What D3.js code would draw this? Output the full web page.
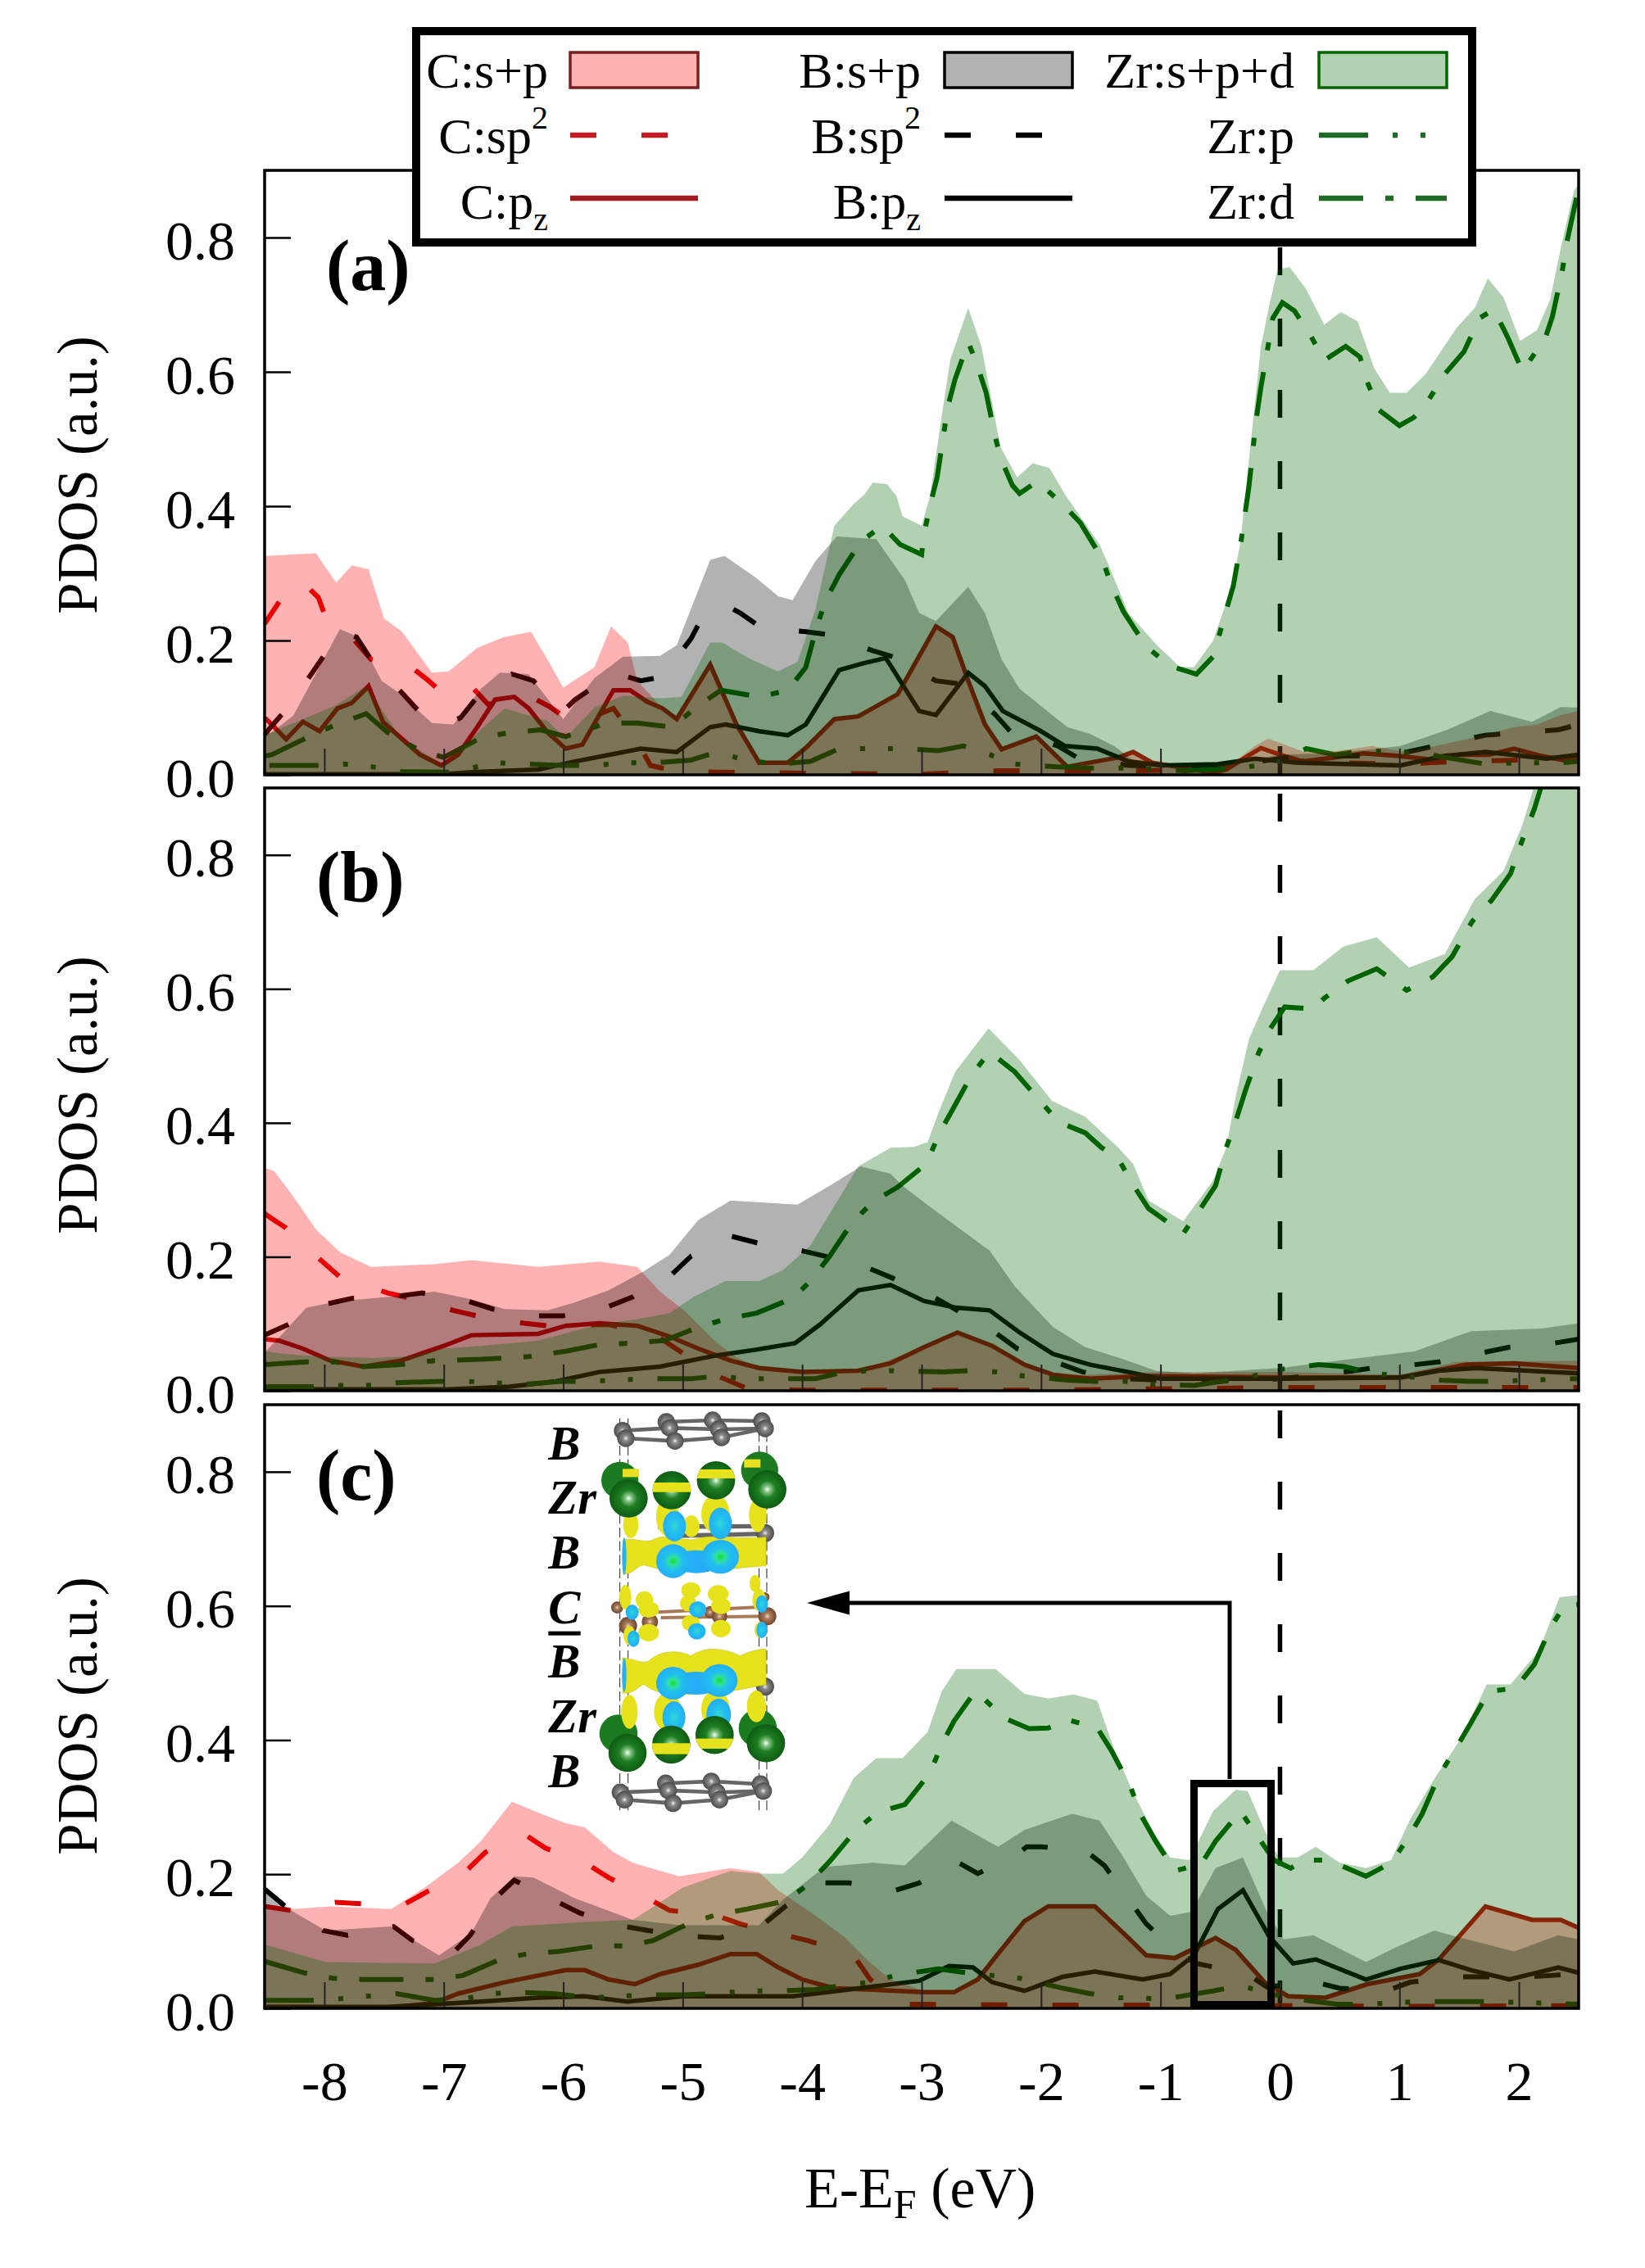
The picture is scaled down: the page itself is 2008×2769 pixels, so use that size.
<!DOCTYPE html>
<html>
<head>
<meta charset="utf-8">
<script src="https://d3js.org/d3.v7.min.js"></script>
<style>
html, body { margin: 0; padding: 0; background: #fff; }
text { font-family: "Liberation Serif", serif; fill: #000; }
</style>
</head>
<body>
<div id="chart"></div>
<script>
// [energy, pdos] pairs, panel (a)
var aCTotal = [[-8.5,.326],[-8.07,.33],[-7.9,.286],[-7.77,.312],[-7.63,.306],[-7.5,.233],[-7.35,.213],[-7.1,.152],[-6.96,.154],[-6.72,.189],[-6.5,.205],[-6.27,.213],[-6.12,.168],[-6,.13],[-5.74,.16],[-5.6,.221],[-5.46,.197],[-5.38,.14],[-5.2,.105],[-5.05,.083],[-4.77,.164],[-4.55,.075],[-4.36,.018],[-4.12,.018],[-3.97,.04],[-3.73,.083],[-3.53,.087],[-3.2,.12],[-2.88,.221],[-2.74,.205],[-2.61,.14],[-2.47,.075],[-2.33,.038],[-2.04,.057],[-1.78,.012],[-1.35,.026],[-1.23,.034],[-1.07,.018],[-.56,.002],[-.45,.01],[-.21,.043],[-.1,.054],[.19,.035],[.46,.035],[.77,.043],[1.01,.035],[1.17,.038],[1.56,.053],[1.96,.071],[2.15,.075],[2.35,.089],[2.5,.095]];
var aBTotal = [[-8.5,.06],[-8.44,.063],[-8.26,.088],[-7.87,.217],[-7.71,.205],[-7.52,.14],[-7.36,.12],[-7.1,.077],[-6.92,.075],[-6.69,.128],[-6.53,.152],[-6.29,.15],[-6,.083],[-5.74,.144],[-5.5,.176],[-5.19,.177],[-5.05,.193],[-4.77,.32],[-4.65,.326],[-4.39,.294],[-4.2,.266],[-4.08,.26],[-3.89,.318],[-3.71,.355],[-3.38,.351],[-3.14,.29],[-3.02,.241],[-2.88,.229],[-2.61,.28],[-2.47,.241],[-2.33,.172],[-2.18,.128],[-1.78,.071],[-1.59,.061],[-1.39,.043],[-1.2,.018],[-.99,.014],[-.4,.018],[0,.03],[.5,.033],[1.01,.043],[1.4,.067],[1.76,.095],[2.11,.079],[2.35,.101],[2.5,.1]];
var aZrTotal = [[-8.5,.059],[-8.18,.083],[-7.91,.103],[-7.65,.132],[-7.36,.055],[-7,.014],[-6.69,.067],[-6.49,.099],[-6.13,.08],[-5.98,.055],[-5.74,.1],[-5.5,.118],[-5.19,.114],[-5.01,.116],[-4.77,.197],[-4.67,.197],[-4.43,.172],[-4.2,.154],[-4.04,.168],[-3.89,.245],[-3.73,.371],[-3.57,.403],[-3.48,.417],[-3.41,.435],[-3.29,.433],[-3.21,.415],[-3.16,.385],[-3.0,.371],[-2.93,.415],[-2.83,.536],[-2.76,.618],[-2.61,.695],[-2.5,.638],[-2.34,.488],[-2.2,.443],[-2.07,.464],[-1.93,.457],[-1.79,.415],[-1.51,.343],[-1.43,.31],[-1.27,.241],[-1.03,.193],[-.84,.161],[-.72,.16],[-.56,.2],[-.4,.282],[-.33,.347],[-.28,.435],[-.22,.536],[-.16,.638],[-.08,.707],[-.02,.752],[.08,.756],[.22,.723],[.37,.67],[.51,.689],[.65,.675],[.79,.605],[.92,.569],[1.06,.569],[1.22,.597],[1.48,.666],[1.63,.695],[1.74,.739],[1.87,.711],[2.01,.646],[2.15,.662],[2.26,.707],[2.36,.792],[2.46,.869],[2.5,.88]];
var aCSp2 = [[-8.5,.225],[-8.44,.241],[-8.31,.276],[-8.2,.29],[-8.05,.264],[-7.97,.225],[-7.79,.209],[-7.61,.172],[-7.3,.164],[-7.14,.142],[-7,.12],[-6.78,.134],[-6.63,.105],[-6.45,.11],[-6.29,.118],[-6.11,.101],[-5.9,.075],[-5.74,.087],[-5.58,.099],[-5.4,.055],[-5.27,.014],[-5.05,.005],[-4.7,.004],[-3.7,.002],[-3,.001],[-2.37,.006],[-1.82,.006],[-1.2,.006],[-.7,.008],[-.4,.015],[0,.022],[.5,.018],[1,.016],[1.5,.02],[2,.022],[2.5,.025]];
var aCPz = [[-8.5,.085],[-8.44,.075],[-8.32,.053],[-8.18,.079],[-8.04,.065],[-7.89,.099],[-7.77,.107],[-7.63,.132],[-7.51,.079],[-7.36,.055],[-7.2,.03],[-7.02,.014],[-6.88,.03],[-6.72,.071],[-6.57,.112],[-6.41,.116],[-6.29,.099],[-6.13,.063],[-5.98,.039],[-5.84,.045],[-5.58,.126],[-5.44,.126],[-5.3,.109],[-5.17,.099],[-5.05,.083],[-4.77,.164],[-4.55,.075],[-4.36,.018],[-4.12,.018],[-3.97,.04],[-3.73,.083],[-3.53,.087],[-3.2,.12],[-2.88,.221],[-2.74,.205],[-2.61,.14],[-2.47,.075],[-2.33,.038],[-2.04,.057],[-1.78,.012],[-1.35,.026],[-1.23,.034],[-1.07,.018],[-.56,.003],[-.45,.008],[-.25,.03],[-.16,.04],[0,.03],[.19,.02],[.46,.026],[.7,.032],[1,.028],[1.3,.022],[1.5,.03],[1.75,.03],[1.96,.039],[2.19,.028],[2.43,.02],[2.5,.025]];
var aBSp2 = [[-8.5,.06],[-8.44,.073],[-8.3,.101],[-8.07,.16],[-7.87,.213],[-7.73,.205],[-7.61,.172],[-7.36,.124],[-7.2,.093],[-7,.075],[-6.86,.085],[-6.72,.116],[-6.43,.15],[-6.25,.14],[-6,.095],[-5.9,.112],[-5.72,.134],[-5.54,.15],[-5.35,.14],[-5.17,.146],[-4.93,.203],[-4.83,.237],[-4.64,.253],[-4.52,.241],[-4.34,.219],[-3.97,.213],[-3.79,.209],[-3.41,.185],[-3.24,.176],[-2.88,.14],[-2.7,.136],[-2.39,.091],[-2.26,.065],[-1.86,.043],[-1.7,.026],[-1.27,.014],[-.72,.012],[-.17,.02],[.15,.028],[.62,.028],[1.01,.032],[1.72,.059],[2.33,.067],[2.5,.075]];
var aBPz = [[-8.5,.001],[-7,.001],[-6.77,.004],[-6.21,.008],[-5.9,.02],[-5.35,.039],[-5.05,.034],[-4.77,.071],[-4.64,.075],[-4.36,.065],[-4.12,.059],[-3.97,.075],[-3.69,.156],[-3.49,.166],[-3.3,.174],[-3.02,.095],[-2.88,.089],[-2.61,.152],[-2.47,.132],[-2.32,.095],[-2.02,.067],[-1.8,.043],[-1.53,.039],[-1.27,.02],[-.99,.014],[-.52,.016],[-.21,.024],[.15,.018],[1.01,.014],[1.37,.028],[1.72,.034],[2.23,.024],[2.5,.03]];
var aZrP = [[-8.46,.014],[-8.07,.014],[-7.83,.016],[-7.6,.012],[-7.36,.005],[-6.92,.004],[-6.57,.018],[-6.29,.016],[-6,.014],[-5.74,.014],[-5.5,.018],[-5.23,.018],[-4.93,.022],[-4.71,.034],[-4.48,.022],[-4.2,.016],[-3.93,.02],[-3.69,.039],[-3.45,.039],[-3.14,.039],[-2.86,.036],[-2.65,.043],[-2.43,.03],[-2.22,.016],[-1.86,.012],[-1.59,.01],[-1.19,.01],[-.8,.006],[-.33,.01],[0,.02],[.22,.039],[.46,.03],[.7,.036],[1.01,.034],[1.25,.03],[1.72,.016],[1.96,.018],[2.35,.018],[2.5,.02]];
var aZrD = [[-8.5,.028],[-8.44,.03],[-8.15,.055],[-7.9,.075],[-7.65,.091],[-7.47,.063],[-7.2,.036],[-7,.026],[-6.69,.055],[-6.45,.063],[-6.19,.067],[-5.98,.057],[-5.64,.077],[-5.38,.077],[-5.09,.071],[-4.87,.103],[-4.68,.126],[-4.36,.116],[-4.12,.126],[-3.97,.16],[-3.89,.213],[-3.81,.257],[-3.69,.298],[-3.51,.347],[-3.33,.371],[-3.18,.343],[-3.0,.328],[-2.98,.359],[-2.92,.408],[-2.87,.443],[-2.82,.502],[-2.78,.549],[-2.72,.589],[-2.61,.644],[-2.54,.613],[-2.46,.569],[-2.39,.508],[-2.34,.472],[-2.24,.431],[-2.18,.419],[-2.03,.437],[-1.82,.403],[-1.67,.375],[-1.49,.322],[-1.41,.282],[-1.31,.243],[-1.12,.191],[-.92,.162],[-.7,.15],[-.56,.176],[-.45,.245],[-.39,.282],[-.33,.343],[-.26,.429],[-.2,.528],[-.16,.577],[-.1,.638],[-.06,.68],[.02,.703],[.12,.691],[.25,.656],[.37,.617],[.55,.638],[.67,.622],[.73,.585],[.83,.543],[1.0,.52],[1.12,.532],[1.24,.557],[1.38,.597],[1.54,.63],[1.67,.68],[1.79,.693],[1.91,.65],[2.03,.601],[2.22,.65],[2.28,.682],[2.36,.747],[2.4,.792],[2.46,.841],[2.5,.873]];

// panel (b)
var bCTotal = [[-8.5,.333],[-8.42,.328],[-8.26,.29],[-8.07,.241],[-7.87,.207],[-7.61,.185],[-7.08,.189],[-6.77,.195],[-6.21,.185],[-5.7,.193],[-5.38,.185],[-5.19,.148],[-4.99,.12],[-4.71,.071],[-4.56,.051],[-4.36,.034],[-4,.028],[-3.53,.028],[-3.14,.055],[-2.7,.087],[-2.41,.067],[-2.14,.039],[-1.9,.022],[-1,.028],[0,.028],[1.01,.024],[1.48,.043],[2.5,.045]];
var bBTotal = [[-8.5,.057],[-8.34,.087],[-8.15,.124],[-7.87,.134],[-7.36,.142],[-7.08,.148],[-6.8,.138],[-6.49,.122],[-6.13,.12],[-5.9,.132],[-5.62,.15],[-5.33,.178],[-5.11,.203],[-4.87,.255],[-4.6,.284],[-4.04,.278],[-3.77,.306],[-3.51,.335],[-3.26,.324],[-3.16,.306],[-2.94,.276],[-2.43,.209],[-2.22,.156],[-1.9,.095],[-1.63,.065],[-1.31,.047],[-1.04,.03],[-.72,.026],[0,.034],[.58,.047],[1.13,.059],[1.6,.089],[2.19,.093],[2.5,.101]];
var bZrTotal = [[-8.5,.059],[-8.34,.055],[-8.03,.051],[-7.59,.049],[-7.32,.051],[-7,.063],[-6.69,.067],[-6.21,.075],[-5.7,.099],[-5.38,.107],[-5.11,.116],[-4.91,.14],[-4.64,.164],[-4.36,.164],[-4.16,.18],[-3.93,.217],[-3.71,.282],[-3.53,.335],[-3.26,.363],[-3.07,.364],[-2.95,.371],[-2.85,.419],[-2.72,.476],[-2.44,.541],[-2.19,.496],[-1.91,.433],[-1.63,.409],[-1.36,.364],[-1.23,.339],[-1.1,.284],[-.81,.253],[-.56,.314],[-.45,.363],[-.37,.44],[-.26,.525],[-.14,.574],[0,.628],[.28,.628],[.53,.663],[.81,.677],[1.08,.632],[1.38,.652],[1.63,.734],[1.87,.776],[2.03,.845],[2.11,.892],[2.14,.91],[2.5,1.02]];
var bCSp2 = [[-8.5,.265],[-8.48,.262],[-8.32,.243],[-8.03,.195],[-7.87,.17],[-7.47,.146],[-7.32,.14],[-6.92,.12],[-6.73,.112],[-6.33,.101],[-6.13,.097],[-5.62,.099],[-5.2,.08],[-4.99,.055],[-4.68,.02],[-4.48,.005],[-4.06,.001],[-2,.001],[-.4,.004],[0,.005],[1,.005],[2,.005],[2.5,.005]];
var bCPz = [[-8.5,.077],[-8.38,.075],[-8.18,.063],[-7.95,.045],[-7.67,.036],[-7.36,.045],[-7,.067],[-6.77,.083],[-6.21,.085],[-5.98,.097],[-5.7,.101],[-5.38,.097],[-5.11,.081],[-4.87,.063],[-4.6,.045],[-4.36,.034],[-4,.028],[-3.53,.03],[-3.26,.041],[-2.98,.065],[-2.7,.087],[-2.41,.067],[-2.14,.039],[-1.9,.024],[-1.59,.018],[-1.12,.022],[0,.02],[1.01,.02],[1.56,.039],[1.96,.041],[2.5,.034]];
var bBSp2 = [[-8.5,.083],[-8.3,.099],[-7.97,.13],[-7.77,.138],[-7.36,.142],[-7.18,.146],[-6.8,.134],[-6.59,.122],[-6.21,.112],[-6,.112],[-5.62,.126],[-5.42,.14],[-5.09,.174],[-4.93,.201],[-4.6,.231],[-4.38,.221],[-4,.209],[-3.81,.201],[-3.43,.182],[-3.24,.168],[-2.9,.14],[-2.6,.11],[-2.37,.085],[-2.2,.063],[-1.82,.039],[-1.65,.028],[-1.27,.018],[-.64,.013],[0,.018],[.54,.028],[.78,.034],[1.13,.039],[1.33,.043],[1.7,.057],[1.92,.065],[2.29,.071],[2.5,.077]];
var bBPz = [[-8.5,.002],[-6.96,.002],[-6.45,.006],[-6.06,.014],[-5.7,.028],[-5.19,.036],[-4.71,.053],[-4.4,.061],[-4.06,.071],[-3.85,.099],[-3.53,.15],[-3.26,.158],[-2.98,.134],[-2.71,.124],[-2.43,.12],[-2.18,.087],[-1.9,.055],[-1.59,.039],[-1.27,.028],[-1,.018],[0,.018],[1.01,.02],[1.33,.03],[1.64,.034],[2.5,.026]];
var bZrP = [[-8.5,.006],[-8.11,.006],[-7.89,.008],[-7.65,.008],[-7.4,.012],[-7.04,.014],[-6.8,.014],[-6.6,.012],[-6.29,.01],[-6.02,.014],[-5.8,.014],[-5.54,.016],[-5.31,.018],[-4.93,.018],[-4.71,.022],[-4.48,.018],[-4.24,.018],[-3.89,.018],[-3.65,.028],[-3.43,.03],[-3.2,.03],[-2.82,.028],[-2.61,.03],[-2.37,.028],[-2.14,.022],[-1.78,.016],[-1.55,.014],[-1.3,.014],[-1.08,.01],[-.72,.008],[-.49,.014],[-.27,.02],[0,.032],[.32,.039],[.54,.036],[.78,.026],[1.01,.022],[1.35,.016],[1.58,.014],[1.82,.014],[2.07,.016],[2.43,.018],[2.5,.018]];
var bZrD = [[-8.5,.039],[-8.15,.043],[-7.91,.043],[-7.67,.036],[-7.36,.039],[-7.08,.045],[-6.69,.047],[-6.29,.051],[-5.98,.059],[-5.7,.069],[-5.44,.071],[-5.15,.075],[-4.87,.095],[-4.64,.107],[-4.38,.116],[-4.08,.138],[-3.93,.164],[-3.77,.201],[-3.59,.249],[-3.41,.282],[-3.2,.304],[-2.96,.339],[-2.85,.385],[-2.74,.42],[-2.58,.472],[-2.43,.506],[-2.22,.476],[-2,.431],[-1.85,.401],[-1.63,.385],[-1.5,.364],[-1.35,.345],[-1.21,.302],[-1.1,.272],[-.81,.235],[-.68,.268],[-.54,.306],[-.45,.363],[-.37,.403],[-.29,.448],[-.18,.504],[-.08,.541],[.04,.573],[.28,.57],[.37,.586],[.57,.612],[.81,.63],[1.06,.598],[1.28,.618],[1.44,.648],[1.61,.701],[1.77,.732],[1.93,.772],[2.03,.823],[2.13,.869],[2.2,.91],[2.5,1.04]];

// panel (c)
var cCTotal = [[-8.5,.152],[-8.26,.148],[-7.95,.152],[-7.44,.148],[-7.16,.18],[-6.88,.217],[-6.69,.249],[-6.43,.308],[-6.21,.292],[-5.98,.276],[-5.82,.27],[-5.58,.233],[-5.42,.217],[-5.03,.197],[-4.6,.209],[-4.36,.203],[-4.2,.176],[-4,.152],[-3.81,.128],[-3.65,.107],[-3.45,.071],[-3.26,.043],[-2.98,.026],[-2.73,.026],[-2.53,.043],[-2.37,.079],[-2.14,.128],[-1.94,.152],[-1.55,.152],[-1.31,.112],[-1.12,.079],[-.88,.075],[-.54,.105],[-.37,.087],[-.13,.039],[.07,.018],[.38,.016],[.73,.036],[1.17,.051],[1.33,.073],[1.72,.152],[2.11,.132],[2.35,.132],[2.5,.12]];
var cBTotal = [[-8.5,.18],[-8.42,.164],[-8.26,.144],[-7.99,.116],[-7.44,.122],[-7.04,.079],[-6.77,.112],[-6.61,.164],[-6.41,.197],[-6.25,.195],[-5.9,.164],[-5.42,.132],[-5.01,.124],[-4.36,.124],[-4.16,.162],[-3.81,.211],[-3.41,.217],[-3.14,.213],[-2.75,.28],[-2.36,.241],[-2.14,.266],[-1.74,.29],[-1.51,.28],[-1.31,.225],[-1.12,.168],[-.92,.138],[-.74,.144],[-.54,.209],[-.31,.225],[-.11,.144],[.03,.103],[.28,.109],[.72,.069],[.97,.091],[1.29,.116],[1.48,.107],[1.96,.085],[2.33,.109],[2.5,.103]];
var cZrTotal = [[-8.5,.095],[-8.26,.083],[-7.99,.069],[-7.08,.067],[-6.69,.095],[-6.43,.122],[-5.9,.128],[-5.42,.132],[-5.31,.144],[-5,.18],[-4.6,.205],[-4.36,.201],[-4.16,.201],[-4,.225],[-3.77,.274],[-3.57,.343],[-3.38,.373],[-3.16,.373],[-2.95,.412],[-2.83,.473],[-2.71,.506],[-2.38,.506],[-2.14,.469],[-1.94,.462],[-1.73,.468],[-1.53,.459],[-1.39,.387],[-1.23,.322],[-1.07,.266],[-.92,.225],[-.76,.221],[-.56,.294],[-.37,.326],[-.27,.324],[-.13,.266],[-.01,.225],[.15,.225],[.3,.241],[.5,.217],[.72,.209],[.93,.221],[1.09,.282],[1.28,.339],[1.52,.404],[1.73,.483],[1.93,.483],[2.17,.534],[2.34,.613],[2.5,.616]];
var cCSp2 = [[-8.5,.152],[-8.28,.146],[-7.91,.158],[-7.69,.156],[-7.32,.156],[-7.14,.174],[-6.8,.207],[-6.65,.233],[-6.33,.26],[-6.15,.239],[-5.8,.215],[-5.62,.195],[-5.29,.164],[-5.11,.146],[-4.71,.138],[-4.52,.126],[-4.14,.109],[-3.95,.101],[-3.57,.079],[-3.43,.043],[-3.16,.006],[-2.96,.006],[-2,.005],[-1,.005],[0,.004],[1,.003],[2.5,.004]];
var cCPz = [[-8.5,.002],[-7.47,.001],[-7.08,.008],[-6.88,.022],[-6.49,.039],[-5.98,.057],[-5.82,.057],[-5.62,.043],[-5.4,.036],[-5.19,.051],[-4.87,.065],[-4.6,.081],[-4.38,.081],[-4.2,.061],[-4,.043],[-3.73,.03],[-3.45,.028],[-2.98,.024],[-2.73,.024],[-2.53,.043],[-2.37,.079],[-2.14,.13],[-1.94,.152],[-1.55,.152],[-1.31,.112],[-1.12,.079],[-.88,.075],[-.54,.105],[-.37,.087],[-.13,.039],[.07,.018],[.38,.016],[.73,.036],[1.17,.051],[1.33,.073],[1.72,.152],[2.11,.132],[2.35,.132],[2.5,.12]];
var cBSp2 = [[-8.5,.178],[-8.3,.148],[-8.01,.116],[-7.81,.109],[-7.42,.122],[-7.26,.101],[-6.92,.083],[-6.78,.109],[-6.57,.164],[-6.41,.191],[-6.04,.158],[-5.86,.142],[-5.48,.122],[-5.29,.116],[-4.89,.107],[-4.69,.105],[-4.32,.126],[-4.14,.152],[-3.81,.187],[-3.61,.187],[-3.22,.176],[-3.02,.187],[-2.71,.219],[-2.53,.201],[-2.2,.229],[-2.12,.241],[-2,.241],[-1.63,.235],[-1.47,.213],[-1.25,.158],[-1.12,.126],[-.86,.083],[-.7,.067],[-.27,.051],[-.11,.032],[.3,.039],[.5,.03],[.89,.026],[1.09,.039],[1.48,.047],[1.68,.047],[2.07,.047],[2.27,.049],[2.5,.052]];
var cBPz = [[-8.5,.002],[-7.47,.002],[-6.69,.01],[-6.21,.016],[-5.82,.018],[-5.46,.01],[-5,.018],[-4.08,.018],[-3.61,.028],[-3.02,.041],[-2.77,.063],[-2.57,.061],[-2.41,.039],[-2.14,.026],[-1.82,.047],[-1.55,.055],[-1.15,.043],[-.92,.051],[-.72,.079],[-.52,.148],[-.31,.176],[-.09,.107],[.11,.067],[.3,.073],[.72,.043],[1.01,.059],[1.33,.072],[1.6,.057],[1.92,.043],[2.33,.061],[2.5,.053]];
var cZrP = [[-8.5,.012],[-8.11,.012],[-7.89,.014],[-7.65,.018],[-7.4,.022],[-7.08,.012],[-6.84,.014],[-6.61,.022],[-6.37,.024],[-6.09,.022],[-5.76,.016],[-5.54,.018],[-5.31,.02],[-5,.02],[-4.71,.022],[-4.48,.026],[-4.24,.026],[-3.89,.028],[-3.67,.034],[-3.43,.039],[-3.22,.049],[-2.86,.059],[-2.62,.053],[-2.41,.049],[-2.18,.045],[-1.82,.03],[-1.59,.022],[-1.35,.016],[-.96,.014],[-.56,.026],[-.33,.034],[-.09,.022],[.22,.012],[.48,.006],[.7,.006],[1.13,.01],[1.52,.01],[1.76,.01],[2.19,.008],[2.5,.006]];
var cZrD = [[-8.5,.07],[-8.48,.069],[-8.17,.053],[-7.93,.045],[-7.67,.043],[-7.34,.043],[-7.08,.043],[-6.84,.049],[-6.53,.073],[-6.31,.081],[-6.04,.085],[-5.72,.093],[-5.48,.093],[-5.25,.101],[-4.93,.128],[-4.71,.14],[-4.46,.148],[-4.14,.16],[-3.97,.182],[-3.77,.219],[-3.55,.266],[-3.37,.292],[-3.14,.304],[-3.01,.333],[-2.93,.351],[-2.83,.394],[-2.73,.428],[-2.55,.473],[-2.5,.465],[-2.3,.432],[-2.1,.417],[-1.94,.418],[-1.77,.43],[-1.53,.418],[-1.41,.384],[-1.25,.33],[-1.17,.29],[-1.04,.249],[-.88,.205],[-.66,.215],[-.54,.249],[-.33,.294],[-.21,.262],[-.05,.221],[.09,.209],[.2,.221],[.4,.221],[.72,.197],[.93,.217],[1.07,.253],[1.19,.29],[1.33,.347],[1.46,.384],[1.58,.42],[1.75,.473],[1.97,.477],[2.13,.513],[2.26,.566],[2.38,.6],[2.5,.602]];

var xTicks = [-8, -7, -6, -5, -4, -3, -2, -1, 0, 1, 2];
var yTicks = [0, 0.2, 0.4, 0.6, 0.8];
var panelNames = ["(a)", "(b)", "(c)"];

var width = 2008, height = 2769;
var plotLeft = 323, plotRight = 1927;
var panelTops = [208, 962, 1715];
var panelBottoms = [946, 1698, 2452];
var nameX = [398, 386, 386], nameY = [354, 1101, 1831];
var labelMid = [580, 1337, 2095];

var RED = "#e00000", DARKRED = "#b40c0c", BLACK = "#000", GREEN = "#006400";
var dashSp2 = "32,55", dashZrD = "54,27,10,27", dashZrP = "60,30,6,28,6,30";

var panelData = [
  {cTotal: aCTotal, bTotal: aBTotal, zTotal: aZrTotal, lines: [[aCSp2, RED, dashSp2], [aCPz, DARKRED, null], [aBSp2, BLACK, dashSp2], [aBPz, BLACK, null], [aZrP, GREEN, dashZrP], [aZrD, GREEN, dashZrD]]},
  {cTotal: bCTotal, bTotal: bBTotal, zTotal: bZrTotal, lines: [[bCSp2, RED, dashSp2], [bCPz, DARKRED, null], [bBSp2, BLACK, dashSp2], [bBPz, BLACK, null], [bZrP, GREEN, dashZrP], [bZrD, GREEN, dashZrD]]},
  {cTotal: cCTotal, bTotal: cBTotal, zTotal: cZrTotal, lines: [[cCSp2, RED, dashSp2], [cCPz, DARKRED, null], [cBSp2, BLACK, dashSp2], [cBPz, BLACK, null], [cZrP, GREEN, dashZrP], [cZrD, GREEN, dashZrD]]}
];

var svg = d3.select("#chart").append("svg")
    .attr("width", width)
    .attr("height", height)
    .style("display", "block");
var defs = svg.append("defs");

var x = d3.scaleLinear().domain([-8.5, 2.5]).range([plotLeft, plotRight]);

panelData.forEach(function(p, i) {
  var y = d3.scaleLinear().domain([0, 0.9]).range([panelBottoms[i], panelTops[i]]);
  var line = d3.line().x(function(d) { return x(d[0]); }).y(function(d) { return y(d[1]); });
  var area = d3.area().x(function(d) { return x(d[0]); }).y0(y(0)).y1(function(d) { return y(d[1]); });

  defs.append("clipPath").attr("id", "clip" + i).append("rect")
    .attr("x", plotLeft).attr("y", panelTops[i])
    .attr("width", plotRight - plotLeft).attr("height", panelBottoms[i] - panelTops[i]);

  var g = svg.append("g").attr("clip-path", "url(#clip" + i + ")");

  // gnuplot drew the lines first, the see-through fills go over them
  g.append("path").datum([[0, 0.9], [0, 0]])
    .attr("d", line).attr("fill", "none").attr("stroke", "#000")
    .attr("stroke-width", 5.5).attr("stroke-dasharray", "34,53").attr("stroke-dashoffset", -7);

  p.lines.forEach(function(l) {
    g.append("path").datum(l[0])
      .attr("d", line).attr("fill", "none").attr("stroke", l[1])
      .attr("stroke-width", l[2] ? 6 : 5.5)
      .attr("stroke-dasharray", l[2]);
  });

  [[p.cTotal, "red"], [p.bTotal, "black"], [p.zTotal, GREEN]].forEach(function(a) {
    g.append("path").datum(a[0])
      .attr("d", area).attr("fill", a[1]).attr("fill-opacity", 0.3);
  });

  // axes
  var ay = svg.append("g").attr("transform", "translate(" + plotLeft + ",0)")
    .call(d3.axisLeft(y).tickValues(yTicks).tickSize(-32).tickFormat(d3.format(".1f")));
  ay.select(".domain").remove();
  ay.selectAll("line").attr("stroke", "#000").attr("stroke-width", 2.5);
  ay.selectAll("text").attr("x", -36).attr("dy", 26).attr("font-size", 68)
    .style("font-family", '"Liberation Serif", serif').style("fill", "#000");

  var ax = svg.append("g").attr("transform", "translate(0," + panelBottoms[i] + ")")
    .call(d3.axisBottom(x).tickValues(xTicks).tickSize(-32));
  ax.select(".domain").remove();
  ax.selectAll("line").attr("stroke", "#222").attr("stroke-width", 2);
  if (i === 2) {
    ax.selectAll("text").attr("y", 112).attr("dy", 0).attr("font-size", 68)
      .style("font-family", '"Liberation Serif", serif').style("fill", "#000")
      .text(function(d) { return d; });
  } else {
    ax.selectAll("text").remove();
  }

  svg.append("rect")
    .attr("x", plotLeft).attr("y", panelTops[i])
    .attr("width", plotRight - plotLeft).attr("height", panelBottoms[i] - panelTops[i])
    .attr("fill", "none").attr("stroke", "#000").attr("stroke-width", 3.5);

  svg.append("text")
    .attr("x", nameX[i]).attr("y", nameY[i])
    .attr("font-size", 88).attr("font-weight", "bold")
    .text(panelNames[i]);

  svg.append("text")
    .attr("transform", "translate(118," + labelMid[i] + ") rotate(-90)")
    .attr("text-anchor", "middle").attr("font-size", 69)
    .text("PDOS (a.u.)");
});

// x label with subscript F
var xl = svg.append("text").attr("x", 982).attr("y", 2695).attr("font-size", 70);
xl.append("tspan").text("E-E");
xl.append("tspan").attr("font-size", 50).attr("dy", 13).text("F");
xl.append("tspan").attr("dy", -13).text(" (eV)");

// legend
var legendTextEnd = [669, 1124, 1580];
var legendKeyX = [696, 1153, 1610];
var legendKeyW = 156;
var legendRowY = [85, 165, 242];
var legendBase = [107, 187, 267];
var legendNames = [["C", "B", "Zr"]];
var fillKeys = [["s+p", "red", "#7a1f1f"], ["s+p", "black", "#000"], ["s+p+d", GREEN, GREEN]];

svg.append("rect").attr("x", 508).attr("y", 38).attr("width", 1289).attr("height", 258)
  .attr("fill", "#fff").attr("stroke", "#000").attr("stroke-width", 10);

legendNames[0].forEach(function(el, c) {
  var t = svg.append("text").attr("x", legendTextEnd[c]).attr("y", legendBase[0])
    .attr("text-anchor", "end").attr("font-size", 62);
  t.text(el + ":" + fillKeys[c][0]);
  svg.append("rect").attr("x", legendKeyX[c]).attr("y", 64).attr("width", legendKeyW).attr("height", 43)
    .attr("fill", fillKeys[c][1]).attr("fill-opacity", 0.3)
    .attr("stroke", fillKeys[c][2]).attr("stroke-width", 3.5);
});

var keyLine = d3.line();
function legendLine(c, row, color, dash) {
  svg.append("path")
    .datum([[legendKeyX[c], legendRowY[row]], [legendKeyX[c] + legendKeyW, legendRowY[row]]])
    .attr("d", keyLine).attr("stroke", color).attr("stroke-width", 6.5)
    .attr("stroke-dasharray", dash).attr("fill", "none");
}
function legendLabel(c, row, head, script, dy) {
  var t = svg.append("text").attr("x", legendTextEnd[c]).attr("y", legendBase[row])
    .attr("text-anchor", "end").attr("font-size", 62);
  t.append("tspan").text(head);
  if (script) t.append("tspan").attr("font-size", 40).attr("dy", dy).text(script);
}
legendLabel(0, 1, "C:sp", "2", -30); legendLine(0, 1, "#c01c24", dashSp2);
legendLabel(0, 2, "C:p", "z", 14);   legendLine(0, 2, "#a01c20", null);
legendLabel(1, 1, "B:sp", "2", -30); legendLine(1, 1, "#000", dashSp2);
legendLabel(1, 2, "B:p", "z", 14);   legendLine(1, 2, "#000", null);
legendLabel(2, 1, "Zr:p");           legendLine(2, 1, "#1f6a24", dashZrP);
legendLabel(2, 2, "Zr:d");           legendLine(2, 2, "#1f6a24", dashZrD);

// arrow and box around the state that is plotted in the inset
svg.append("rect").attr("x", 1457.5).attr("y", 2177.5).attr("width", 94).attr("height", 270)
  .attr("fill", "none").attr("stroke", "#000").attr("stroke-width", 9);
svg.append("path").attr("d", "M1501,2172V1957H1030")
  .attr("fill", "none").attr("stroke", "#000").attr("stroke-width", 5);
svg.append("path").attr("d", "M985,1957L1037,1942.5V1971.5Z").attr("fill", "#000");

// inset: charge density picture of the B-Zr-B-C-B-Zr-B slab, in crop pixels at 3x
var inset = svg.append("g").attr("transform", "translate(640,1720) scale(0.3333)");

function ballGradient(id, stops) {
  var gr = defs.append("radialGradient").attr("id", id)
    .attr("cx", "50%").attr("cy", "50%").attr("r", "50%");
  stops.forEach(function(s) {
    gr.append("stop").attr("offset", s[0]).attr("stop-color", s[1]);
  });
}
ballGradient("ballGreen", [[0, "#f4fff4"], [0.18, "#7fc07f"], [0.45, "#1e7d22"], [1, "#0d5c12"]]);
ballGradient("ballGray", [[0, "#f2f2f2"], [0.3, "#8a8a8a"], [1, "#4c4c4c"]]);
ballGradient("ballBrown", [[0, "#e8d0bc"], [0.35, "#a87a58"], [1, "#6c4630"]]);
ballGradient("lobeBlue", [[0, "#10e020"], [0.25, "#30e0a0"], [0.55, "#20c0f0"], [1, "#25aef5"]]);
ballGradient("podBlue", [[0, "#30d8d0"], [0.5, "#22bff0"], [1, "#25aef5"]]);

var cellLines = [350, 380, 860, 888];
var grayAtomsTop = [[520,48],[690,42],[870,45],[360,80],[532,70],[712,75],[882,72],[372,108],[552,118],[722,105]];
var grayBondsTop = [[[360,80],[532,70],[712,75],[882,72]],[[372,108],[552,118],[722,105],[882,72]],[[520,48],[690,42],[870,45]],[[532,70],[552,118]],[[712,75],[722,105]],[[360,80],[372,108]]];
var grayAtomsBottom = [[518,1372],[685,1365],[865,1375],[352,1405],[527,1398],[705,1405],[875,1400],[367,1432],[545,1445],[715,1432]];
var grayBondsBottom = [[[352,1405],[527,1398],[705,1405],[875,1400]],[[367,1432],[545,1445],[715,1432],[875,1400]],[[518,1372],[685,1365],[865,1375]],[[527,1398],[545,1445]],[[705,1405],[715,1432]],[[352,1405],[367,1432]]];
var midBonds = [[[490,432],[880,430]],[[560,465],[880,458]]];
var brownBonds = [[[490,745],[880,725]],[[500,765],[890,760]]];
var brownAtoms = [[340,728,22],[590,710,18],[680,745,22],[880,690,18],[460,780,30],[380,795,33],[715,760,28],[890,760,33]];
var yellowBlobs = [
  [390,425,28,48],[525,395,42,72],[700,385,52,70],[855,390,32,62],[612,430,30,40],
  [440,700,32,32],[455,735,38,30],[455,820,38,32],[370,690,22,45],[610,665,35,30],[600,712,30,30],[710,678,38,32],[720,722,36,30],[720,805,36,32],[610,785,33,30],[845,640,20,32],[860,700,25,40],[385,830,22,35],[865,810,22,30],
  [385,1110,30,62],[525,1110,50,70],[700,1100,52,68],[850,1090,35,58]
];
var blueBlobs = [[550,430,42,56],[718,420,42,58],[635,735,32,30],[632,815,32,30],[395,745,24,28],[400,842,22,30],[870,715,22,32],[870,810,20,30],[548,1130,42,58],[712,1120,45,58]];
var slabPaths = [
  "M362,480C410,470 440,495 470,480C520,455 560,480 620,480C680,455 740,480 885,470V575C800,580 750,590 640,590C560,605 480,585 450,575C420,560 400,610 362,605Z",
  "M360,912C400,915 430,935 455,925C500,880 570,885 610,905C670,865 740,880 790,905C820,890 860,880 885,880V1010C800,1025 760,1040 640,1040C560,1055 480,1045 440,1010C420,1010 400,1050 360,1040Z"
];
var slabMiddles = [[630,560,90,42],[630,1005,90,42]];
var slabLobes = [[545,558,62,62],[718,542,68,62],[545,1005,62,60],[715,995,66,60]];
var edgeBlue = [[366,540,8,68],[366,975,8,62]];
var zrBack = [[350,262,68],[862,225,68],[345,1190,70],[855,1170,70]];
var zrFront = [[382,328,70],[540,298,70],[702,262,70],[890,295,70],[378,1260,70],[538,1230,70],[697,1195,70],[885,1225,70]];
var zrBands = [[540,298,270,305],[702,262,222,255],[538,1230,1225,1265],[697,1195,1208,1245]];
var zrPatches = [[360,220,60,30],[805,185,60,30]];

function insetLines(list, color, w) {
  list.forEach(function(b) {
    inset.append("path").datum(b).attr("d", d3.line())
      .attr("fill", "none").attr("stroke", color).attr("stroke-width", w);
  });
}
function insetBalls(list, r, fill) {
  inset.selectAll(null).data(list).enter().append("circle")
    .attr("cx", function(d) { return d[0]; }).attr("cy", function(d) { return d[1]; })
    .attr("r", function(d) { return d[2] || r; }).attr("fill", fill);
}
function insetEllipses(list, fill) {
  inset.selectAll(null).data(list).enter().append("ellipse")
    .attr("cx", function(d) { return d[0]; }).attr("cy", function(d) { return d[1]; })
    .attr("rx", function(d) { return d[2]; }).attr("ry", function(d) { return d[3]; })
    .attr("fill", fill);
}

cellLines.forEach(function(cx) {
  inset.append("path").attr("d", "M" + cx + ",35V1475")
    .attr("stroke", "#222").attr("stroke-width", 3).attr("stroke-dasharray", "36,14").attr("fill", "none");
});
insetLines(grayBondsTop, "#666", 14);
insetBalls(grayAtomsTop, 32, "url(#ballGray)");
insetLines(grayBondsBottom, "#666", 14);
insetBalls(grayAtomsBottom, 32, "url(#ballGray)");
insetLines(midBonds, "#666", 16);
insetBalls([[882,455,33]], 33, "url(#ballGray)");
insetBalls([[882,1018,33]], 33, "url(#ballGray)");
insetLines(brownBonds, "#a87a58", 12);
insetBalls(brownAtoms, 28, "url(#ballBrown)");
insetBalls(zrBack, 68, "#1c7a20");
zrPatches.forEach(function(r) {
  inset.append("rect").attr("x", r[0]).attr("y", r[1]).attr("width", r[2]).attr("height", r[3]).attr("fill", "#e8e020");
});
insetEllipses(yellowBlobs, "#e6e21c");
slabPaths.forEach(function(d) {
  inset.append("path").attr("d", d).attr("fill", "#e6e21c").attr("stroke", "#c8c418").attr("stroke-width", 2);
});
insetEllipses(blueBlobs, "url(#podBlue)");
insetEllipses(slabMiddles, "#25aef5");
insetEllipses(slabLobes, "url(#lobeBlue)");
insetEllipses(edgeBlue, "#2ab0f0");
insetBalls(zrFront, 70, "url(#ballGreen)");
zrBands.forEach(function(b, k) {
  defs.append("clipPath").attr("id", "zrClip" + k).append("circle")
    .attr("cx", b[0]).attr("cy", b[1]).attr("r", 70);
  inset.append("rect").attr("x", b[0] - 75).attr("y", b[2]).attr("width", 150).attr("height", b[3] - b[2])
    .attr("fill", "#e6e21c").attr("clip-path", "url(#zrClip" + k + ")");
});

// slab labels
var slabNames = ["B", "Zr", "B", "C", "B", "Zr", "B"];
var slabBase = [185, 385, 585, 785, 985, 1185, 1385];
slabNames.forEach(function(n, k) {
  inset.append("text").attr("x", 88).attr("y", slabBase[k])
    .attr("font-size", 176).attr("font-weight", "bold").attr("font-style", "italic")
    .text(n);
});
inset.append("rect").attr("x", 88).attr("y", 815).attr("width", 118).attr("height", 15).attr("fill", "#000");
</script>
</body>
</html>
